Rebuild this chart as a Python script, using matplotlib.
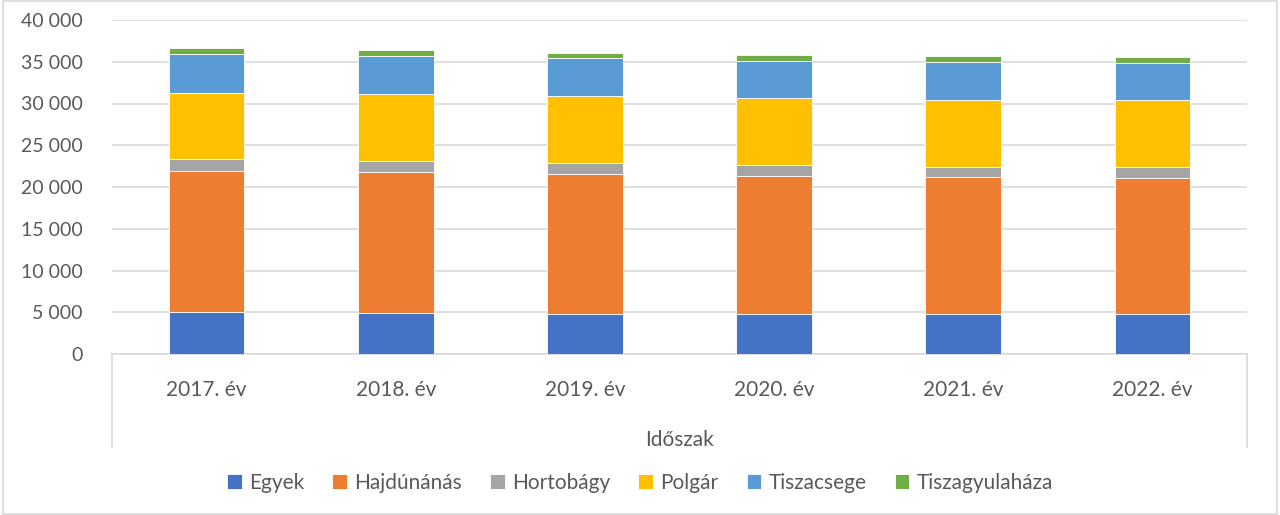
import matplotlib
matplotlib.use("Agg")
import matplotlib.pyplot as plt
from matplotlib.lines import Line2D
from matplotlib.patches import Rectangle
from matplotlib.ticker import FuncFormatter
import numpy as np

years = ["2017. év", "2018. év", "2019. év", "2020. év", "2021. év", "2022. év"]
egyek = [5000, 4870, 4790, 4750, 4770, 4770]
hajdunanas = [16880, 16890, 16730, 16530, 16390, 16270]
hortobagy = [1470, 1400, 1320, 1320, 1280, 1320]
polgar = [7900, 7940, 8060, 8020, 8020, 8020]
tiszacsege = [4670, 4590, 4550, 4470, 4510, 4470]
tiszagyulahaza = [720, 720, 600, 680, 680, 680]

series = [
    ("Egyek", egyek, "#4472C4"),
    ("Hajdúnánás", hajdunanas, "#ED7D31"),
    ("Hortobágy", hortobagy, "#A5A5A5"),
    ("Polgár", polgar, "#FFC000"),
    ("Tiszacsege", tiszacsege, "#5B9BD5"),
    ("Tiszagyulaháza", tiszagyulahaza, "#70AD47"),
]

plt.rcParams["font.family"] = ["Lato", "DejaVu Sans"]
text_col = "#595959"
grid_col = "#D9D9D9"

fig = plt.figure(figsize=(12.8, 5.15), dpi=100)
ax = fig.add_axes([112 / 1280, 1 - 354 / 515, (1247 - 112) / 1280, (354 - 20) / 515])

x = np.arange(len(years))
bottom = np.zeros(len(years))
for name, vals, col in series:
    ax.bar(x, vals, 0.4, bottom=bottom, color=col, label=name,
           edgecolor="white", linewidth=0.6, zorder=3)
    bottom += np.array(vals)

ax.set_xlim(-0.5, len(years) - 0.5)
ax.set_ylim(0, 40000)
ax.set_yticks(range(0, 40001, 5000))
ax.yaxis.set_major_formatter(FuncFormatter(lambda v, p: f"{int(v):,}".replace(",", " ")))
ax.grid(axis="y", color=grid_col, linewidth=1.2, zorder=0)
ax.set_xticks(x)
ax.set_xticklabels(years)
ax.tick_params(axis="both", length=0, colors=text_col)
ax.tick_params(axis="y", pad=21, labelsize=14)
ax.tick_params(axis="x", pad=19, labelsize=15)
for s in ["left", "right", "top"]:
    ax.spines[s].set_visible(False)
ax.spines["bottom"].set_color(grid_col)
ax.spines["bottom"].set_linewidth(1.2)

ax.set_xlabel("Időszak", fontsize=15, color=text_col, labelpad=21)

# category box lines below the axis
for xp in [112, 1247]:
    fig.add_artist(Line2D([xp / 1280, xp / 1280], [1 - 354 / 515, 1 - 447 / 515],
                          color=grid_col, linewidth=1.2))

# chart border
fig.add_artist(Rectangle((0.002, 0.002), 0.996, 0.996, transform=fig.transFigure,
                         fill=False, edgecolor=grid_col, linewidth=1.2))

fig.legend(loc="center", bbox_to_anchor=(0.5, 1 - 483 / 515), ncol=6, frameon=False,
           fontsize=15, handlelength=0.7, handleheight=0.7, handletextpad=0.35,
           columnspacing=1.35, labelcolor=text_col)

fig.savefig("out.png", dpi=100)
